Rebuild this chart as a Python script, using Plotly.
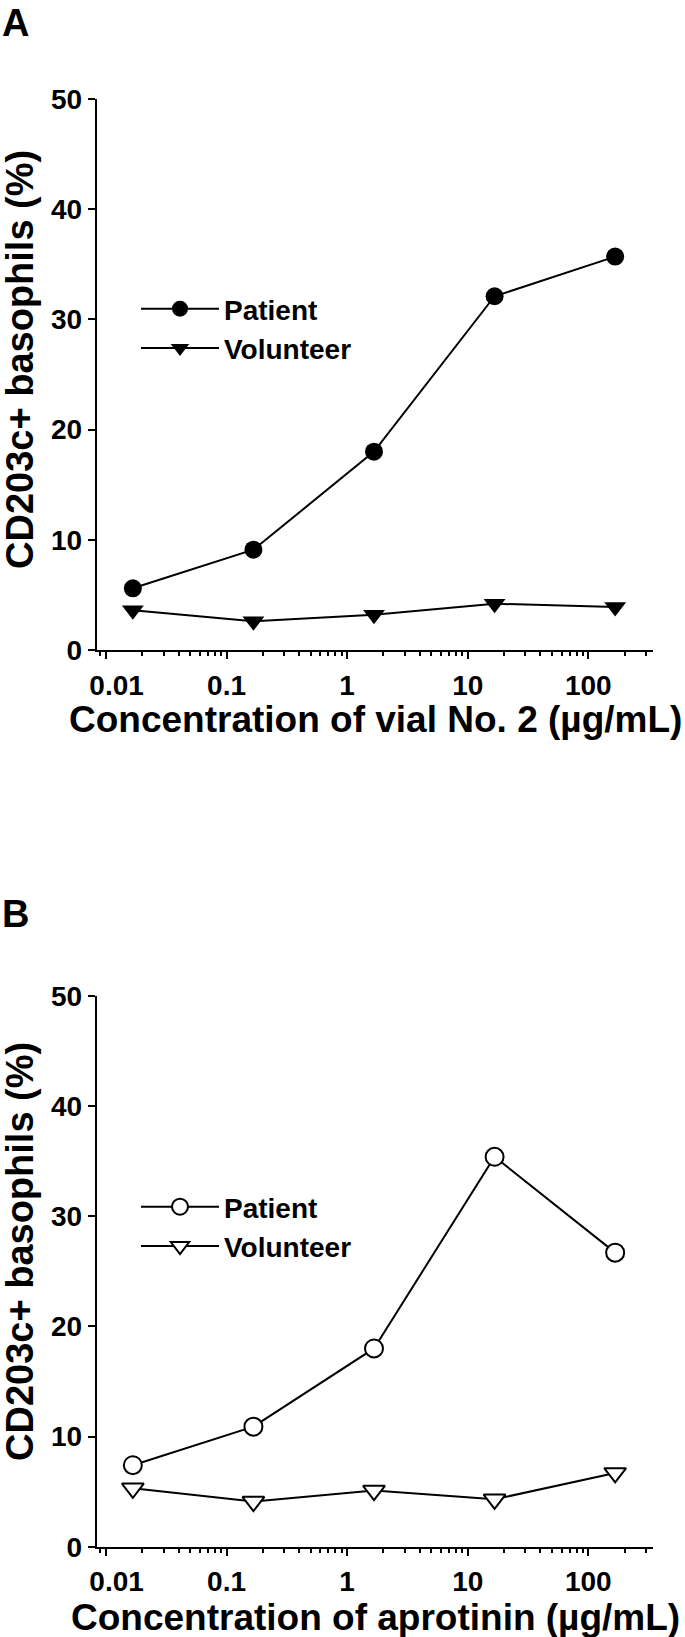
import plotly.graph_objects as go

# data
conc = [0.0167, 0.167, 1.67, 16.7, 167]
a_patient = [5.6, 9.1, 18.0, 32.1, 35.7]
a_volunteer = [3.6, 2.6, 3.2, 4.2, 3.9]
b_patient = [7.4, 10.9, 18.0, 35.4, 26.7]
b_volunteer = [5.3, 4.1, 5.1, 4.3, 6.7]

x_tickvals = [0.01, 0.1, 1, 10, 100]
x_ticktext = ["\u00a0\u00a0\u20090.01", "0.1", "1", "10", "100"]
y_tickvals = [0, 10, 20, 30, 40, 50]
minor_vals = [0.009] + [m * 10 ** e for e in range(-2, 3) for m in range(2, 10)]
minor_vals = [v for v in minor_vals if v <= 300]

FONT = "Arial, Liberation Sans, sans-serif"
W, H = 685, 1637

fig = go.Figure()

# panel A (filled markers)
fig.add_trace(go.Scatter(x=conc, y=a_patient, mode="lines+markers", name="Patient",
                         line=dict(color="black", width=2),
                         marker=dict(symbol="circle", size=18, color="black"),
                         xaxis="x", yaxis="y", legend="legend"))
fig.add_trace(go.Scatter(x=conc, y=a_volunteer, mode="lines+markers", name="Volunteer",
                         line=dict(color="black", width=2),
                         marker=dict(symbol="triangle-down", size=19, color="black"),
                         xaxis="x", yaxis="y", legend="legend"))

# panel B (open markers)
fig.add_trace(go.Scatter(x=conc, y=b_patient, mode="lines+markers", name="Patient",
                         line=dict(color="black", width=2),
                         marker=dict(symbol="circle", size=18, color="white",
                                     line=dict(color="black", width=2)),
                         xaxis="x2", yaxis="y2", legend="legend2"))
fig.add_trace(go.Scatter(x=conc, y=b_volunteer, mode="lines+markers", name="Volunteer",
                         line=dict(color="black", width=2),
                         marker=dict(symbol="triangle-down", size=19, color="white",
                                     line=dict(color="black", width=2)),
                         xaxis="x2", yaxis="y2", legend="legend2"))

xdom = [96.7 / W, 653.3 / W]
ydom_a = [1 - 650 / H, 1 - 99 / H]
ydom_b = [1 - 1546.7 / H, 1 - 996 / H]

xaxis_style = dict(
    type="log", range=[-2.077, 2.539], domain=xdom, automargin=False,
    tickmode="array", tickvals=x_tickvals, ticktext=x_ticktext,
    ticks="outside", ticklen=7, tickwidth=2, tickcolor="black",
    ticklabelstandoff=2,
    minor=dict(tickmode="array", tickvals=minor_vals, ticks="outside",
               ticklen=4, tickwidth=1.5, tickcolor="black", showgrid=False),
    showline=True, linecolor="black", linewidth=2,
    showgrid=False, zeroline=False,
    tickfont=dict(family=FONT, size=28, color="black", weight="bold"),
)
yaxis_style = dict(
    range=[0, 50], tickmode="array", tickvals=y_tickvals, automargin=False,
    ticks="outside", ticklen=7, tickwidth=2, tickcolor="black",
    showline=True, linecolor="black", linewidth=2,
    showgrid=False, zeroline=False,
    tickfont=dict(family=FONT, size=28, color="black", weight="bold"),
)

legend_style = dict(
    bgcolor="rgba(0,0,0,0)", borderwidth=0, xanchor="left", yanchor="top",
    font=dict(family=FONT, size=28, color="black", weight="bold"),
    itemsizing="trace", itemwidth=78, tracegroupgap=0,
)

xtitle_font = dict(family=FONT, size=37, color="black", weight="bold")
ytitle_font = dict(family=FONT, size=38, color="black", weight="bold")
letter_font = dict(family=FONT, size=38, color="black", weight="bold")

annotations = [
    dict(text="A", x=0, y=1, xanchor="left", yanchor="top", font=letter_font),
    dict(text="B", x=0, y=1 - 914 / H, xanchor="left", yanchor="middle", font=letter_font),
    dict(text="CD203c+ basophils (%)", textangle=-90, x=20 / W, y=1 - 360 / H,
         xanchor="center", yanchor="middle", font=ytitle_font),
    dict(text="CD203c+ basophils (%)", textangle=-90, x=20 / W, y=1 - 1252 / H,
         xanchor="center", yanchor="middle", font=ytitle_font),
    dict(text="Concentration of vial No. 2 (\u00b5g/mL)", x=375 / W, y=1 - 719 / H,
         xanchor="center", yanchor="middle", font=xtitle_font),
    dict(text="Concentration of aprotinin (\u00b5g/mL)", x=375 / W, y=1 - 1617 / H,
         xanchor="center", yanchor="middle", font=xtitle_font),
]
for a in annotations:
    a.update(xref="paper", yref="paper", showarrow=False)

fig.update_layout(
    width=W, height=H,
    margin=dict(l=0, r=0, t=0, b=0),
    paper_bgcolor="white", plot_bgcolor="white",
    xaxis=dict(xaxis_style, anchor="y"),
    yaxis=dict(yaxis_style, domain=ydom_a, anchor="x"),
    xaxis2=dict(xaxis_style, anchor="y2"),
    yaxis2=dict(yaxis_style, domain=ydom_b, anchor="x2"),
    legend=dict(legend_style, x=136 / W, y=1 - 284 / H),
    legend2=dict(legend_style, x=136 / W, y=1 - 1182 / H),
    annotations=annotations,
    showlegend=True,
)

fig.write_html("out.html", config={"displayModeBar": False},
               post_script="document.body.style.margin='0';document.body.style.overflow='hidden';")
